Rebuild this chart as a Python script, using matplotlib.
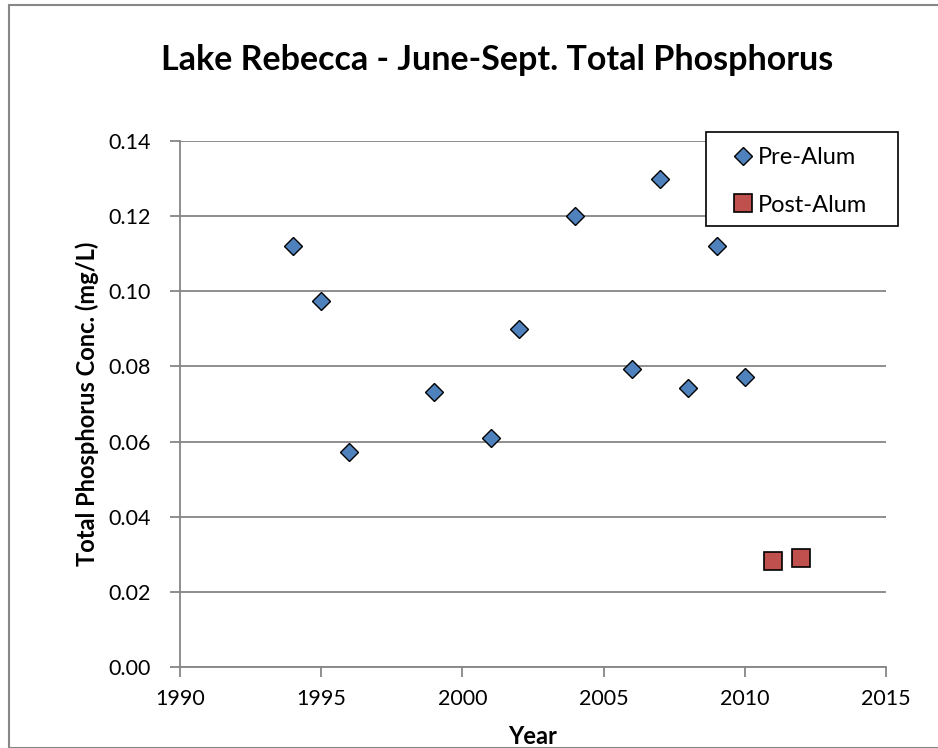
import matplotlib
matplotlib.use("Agg")
import matplotlib.pyplot as plt

plt.rcParams['font.family'] = ['Lato', 'DejaVu Sans']

pre_years = [1994, 1995, 1996, 1999, 2001, 2002, 2004, 2006, 2007, 2008, 2009, 2010]
pre_tp = [0.112, 0.0975, 0.0572, 0.0731, 0.0610, 0.0900, 0.1200, 0.0794, 0.1298, 0.0742, 0.1120, 0.0771]
post_years = [2011, 2012]
post_tp = [0.0282, 0.0289]

W, H = 938, 748
fig = plt.figure(figsize=(W/100, H/100), dpi=100)
fig.patches.append(plt.Rectangle((9/W, 0), 1, 1 - 5/H, transform=fig.transFigure,
                                 fill=False, edgecolor='#878787', linewidth=1.5))
AX_L, AX_R, AX_T, AX_B = 180, 886, 141, 667
ax = fig.add_axes([AX_L/W, 1 - AX_B/H, (AX_R-AX_L)/W, (AX_B-AX_T)/H])

def ax_x(px):
    return (px - AX_L) / (AX_R - AX_L)

def ax_y(py):
    return (AX_B - py) / (AX_B - AX_T)

ax.plot(pre_years, pre_tp, linestyle='none', marker='D', markersize=9,
        markerfacecolor='#4F81BD', markeredgecolor='black', markeredgewidth=1.0,
        label='Pre-Alum', zorder=3)
ax.plot(post_years, post_tp, linestyle='none', marker='s', markersize=12.5,
        markerfacecolor='#C0504D', markeredgecolor='black', markeredgewidth=1.2,
        label='Post-Alum', zorder=3)

ax.set_xlim(1990, 2015)
ax.set_ylim(0, 0.14)
ax.set_xticks(range(1990, 2016, 5))
yt = [0.0, 0.02, 0.04, 0.06, 0.08, 0.10, 0.12, 0.14]
ax.set_yticks(yt)
ax.set_yticklabels([f"{v:.2f}" for v in yt])
ax.yaxis.grid(True, color='#868686', linewidth=1.3)
ax.set_axisbelow(True)
for s in ['top', 'right']:
    ax.spines[s].set_visible(False)
for s in ['left', 'bottom']:
    ax.spines[s].set_color('#868686')
    ax.spines[s].set_linewidth(1.3)
ax.tick_params(axis='both', which='major', direction='out', length=7, width=1.3,
               color='#868686', labelsize=15.5)
ax.tick_params(axis='y', pad=14)
ax.tick_params(axis='x', pad=9)

ax.set_xlabel('Year', fontsize=17, fontweight='bold', labelpad=11.5)
ax.set_ylabel('Total Phosphorus Conc. (mg/L)', fontsize=17, fontweight='bold', labelpad=7)
fig.text(497/W, 1 - 60/H, 'Lake Rebecca - June-Sept. Total Phosphorus',
         ha='center', va='center', fontsize=24.5, fontweight='bold')

# legend frame
ax.add_patch(plt.Rectangle((ax_x(706), ax_y(226)), ax_x(898) - ax_x(706), ax_y(132) - ax_y(226),
                           transform=ax.transAxes, fill=True, facecolor='white',
                           edgecolor='black', linewidth=1.2, clip_on=False, zorder=4))
leg = ax.legend(loc='upper left', bbox_to_anchor=(ax_x(733), ax_y(147)), fontsize=17,
                frameon=False, handletextpad=0.2, labelspacing=1.13, borderpad=0,
                handlelength=0.85, borderaxespad=0)
leg.set_zorder(5)

fig.savefig('out.png', dpi=100)
